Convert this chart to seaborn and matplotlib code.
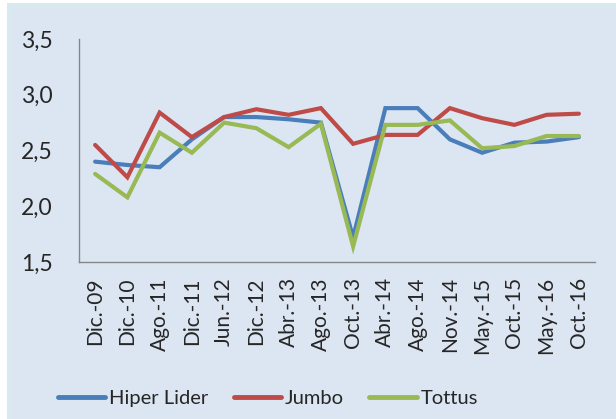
import pandas
import seaborn as sns
from matplotlib import pyplot as plt
from matplotlib.patches import Rectangle

fechas = ["Dic.-09", "Dic.-10", "Ago.-11", "Dic.-11", "Jun.-12", "Dic.-12", "Abr.-13", "Ago.-13",
          "Oct.-13", "Abr.-14", "Ago.-14", "Nov.-14", "May.-15", "Oct.-15", "May.-16", "Oct.-16"]
hiper_lider = [2.40, 2.37, 2.35, 2.60, 2.80, 2.80, 2.78, 2.75, 1.72, 2.88, 2.88, 2.60, 2.48, 2.57, 2.58, 2.62]
jumbo = [2.55, 2.26, 2.84, 2.62, 2.80, 2.87, 2.82, 2.88, 2.56, 2.64, 2.64, 2.88, 2.79, 2.73, 2.82, 2.83]
tottus = [2.29, 2.08, 2.66, 2.48, 2.75, 2.70, 2.53, 2.74, 1.64, 2.73, 2.73, 2.77, 2.52, 2.54, 2.63, 2.63]

series = {"Hiper Lider": hiper_lider, "Jumbo": jumbo, "Tottus": tottus}
colors = {"Hiper Lider": "#4A7EBB", "Jumbo": "#BE4B48", "Tottus": "#98B954"}

df = pandas.DataFrame(series)
df["Fecha"] = fechas
df = df.melt(id_vars="Fecha", var_name="Serie", value_name="Valor")

sns.set_style("white")
plt.rcParams["font.family"] = ["Lato", "DejaVu Sans"]

W, H = 616, 419
fig = plt.figure(figsize=(W / 100, H / 100), dpi=100, facecolor="white")
# chart area background with light border band
fig.patches.append(Rectangle((7 / W, 0), 1, 1 - 3 / H, transform=fig.transFigure,
                             facecolor="#D7EAEF", edgecolor="none", zorder=-2))
fig.patches.append(Rectangle((12 / W, 0), 1, 1 - 8 / H, transform=fig.transFigure,
                             facecolor="#DCE6F2", edgecolor="none", zorder=-1))

ax = fig.add_axes([79 / W, 1 - 262 / H, (595 - 79) / W, (262 - 39) / H])
ax.set_facecolor("none")

sns.lineplot(data=df, x="Fecha", y="Valor", hue="Serie", palette=colors, sort=False,
             linewidth=3.0, ax=ax, legend=True)
for line in ax.lines:
    line.set_solid_capstyle("round")
    line.set_solid_joinstyle("miter")

ax.set_ylim(1.5, 3.5)
ax.set_xlim(-0.5, len(fechas) - 0.5)
ax.set_yticks([1.5, 2.0, 2.5, 3.0, 3.5])
ax.set_yticklabels(["1,5", "2,0", "2,5", "3,0", "3,5"])
ax.tick_params(axis="y", length=0, pad=19, labelsize=16.5)
ax.tick_params(axis="x", length=0, pad=11, labelsize=15, labelrotation=90)
ax.set_xlabel("")
ax.set_ylabel("")

for side in ("top", "right"):
    ax.spines[side].set_visible(False)
for side in ("left", "bottom"):
    ax.spines[side].set_color("#868686")
    ax.spines[side].set_linewidth(1.0)

handles, labels = ax.get_legend_handles_labels()
ax.get_legend().remove()
leg = fig.legend(handles, labels, loc="center", bbox_to_anchor=(268 / W, 1 - 398 / H), ncol=3,
                 frameon=False, fontsize=14.5, handlelength=2.35, handletextpad=0.2, columnspacing=1.25)
for h in leg.get_lines():
    h.set_linewidth(3.5)
    h.set_solid_capstyle("round")

fig.savefig("out.png", dpi=100, facecolor=fig.get_facecolor())
